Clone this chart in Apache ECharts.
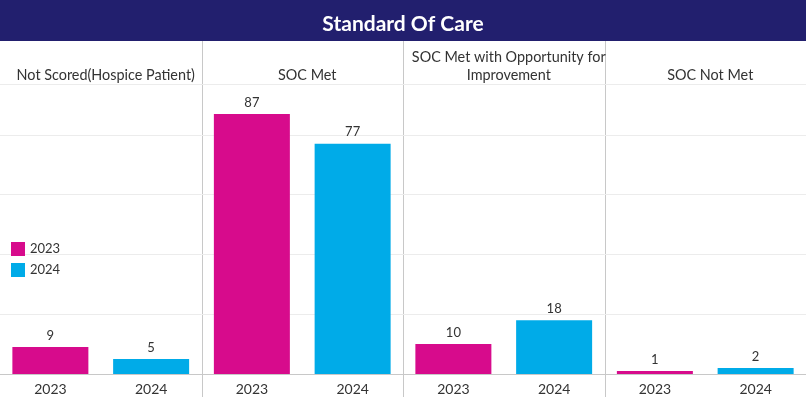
<!DOCTYPE html>
<html><head><meta charset="utf-8">
<script src="https://cdn.jsdelivr.net/npm/echarts@6/dist/echarts.min.js"></script>
<style>html,body{margin:0;padding:0;background:#fff}#c{width:806px;height:397px}</style>
</head><body><div id="c"></div>
<script>
const panels = ['Not Scored(Hospice Patient)', 'SOC Met', 'SOC Met with Opportunity for\nImprovement', 'SOC Not Met'];
const years = ['2023', '2024'];
const values2023 = [9, 87, 10, 1];
const values2024 = [5, 77, 18, 2];
const colors = ['#d70b8c', '#00abe8'];
const FONT = 'Lato';

const W = 806, pw = 201.5;
const grids = [], xAxes = [], yAxes = [], series = [], titles = [];
titles.push({text: 'Standard Of Care', left: 'center', top: 9,
  textStyle: {color: '#fff', fontFamily: FONT, fontWeight: 'bold', fontSize: 21}});
panels.forEach((p, i) => {
  grids.push({left: i * pw, width: pw, top: 84, bottom: 23});
  xAxes.push({type: 'category', gridIndex: i, data: years,
    axisLine: {lineStyle: {color: '#c8c8c8'}}, axisTick: {show: false},
    axisLabel: {color: '#333', fontFamily: FONT, fontSize: 14, margin: 8}});
  yAxes.push({type: 'value', gridIndex: i, min: 0, max: 97, interval: 20,
    axisLabel: {show: false}, axisLine: {show: false}, axisTick: {show: false},
    splitLine: {lineStyle: {color: '#ececec'}}});
  const lbl = {show: true, position: 'top', distance: 5, color: '#333', fontFamily: FONT, fontSize: 13};
  series.push({name: years[0], type: 'bar', xAxisIndex: i, yAxisIndex: i, barWidth: 76, barGap: '-100%',
    itemStyle: {color: colors[0]}, label: lbl, data: [values2023[i], '-']});
  series.push({name: years[1], type: 'bar', xAxisIndex: i, yAxisIndex: i, barWidth: 76, barGap: '-100%',
    itemStyle: {color: colors[1]}, label: lbl, data: ['-', values2024[i]]});
  const multi = p.indexOf('\n') >= 0;
  titles.push({text: p, left: i * pw + pw / 2, top: multi ? 43 : 61, textAlign: 'center',
    textStyle: {color: '#333', fontFamily: FONT, fontWeight: 'normal', fontSize: 14.4, lineHeight: 18}});
});
const graphic = [{type: 'rect', shape: {x: 0, y: 0, width: W, height: 41}, style: {fill: '#221f6e'}, z: -1}];
for (let i = 1; i < 4; i++) {
  const x = Math.round(i * pw) + 0.5;
  graphic.push({type: 'line', shape: {x1: x, y1: 41, x2: x, y2: 397}, style: {stroke: '#c8c8c8', lineWidth: 1}});
}
graphic.push({type: 'line', shape: {x1: 0, y1: 84.5, x2: W, y2: 84.5}, style: {stroke: '#d8d8d8', lineWidth: 1}});

const chart = echarts.init(document.getElementById('c'));
chart.setOption({
  animation: false,
  textStyle: {fontFamily: FONT},
  title: titles,
  legend: {orient: 'vertical', left: 11, top: 242, padding: 0, itemWidth: 14, itemHeight: 14, itemGap: 7,
    icon: 'rect', data: years, textStyle: {color: '#333', fontFamily: FONT, fontSize: 13}},
  grid: grids, xAxis: xAxes, yAxis: yAxes, series: series, graphic: graphic
});
</script></body></html>
